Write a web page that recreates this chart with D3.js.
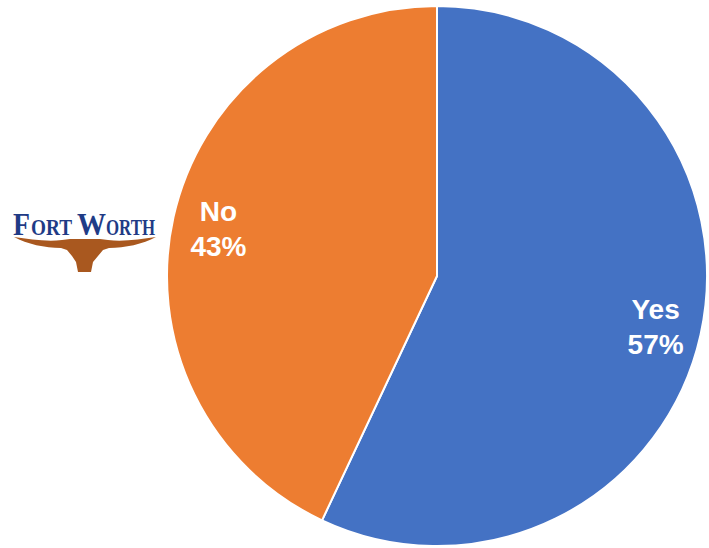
<!DOCTYPE html>
<html>
<head>
<meta charset="utf-8">
<script src="https://cdn.jsdelivr.net/npm/d3@7"></script>
<style>
  html, body { margin: 0; padding: 0; background: #ffffff; }
  svg { display: block; }
</style>
</head>
<body>
<svg id="chart" width="709" height="548"></svg>
<script>
// Survey answers, clockwise from 12 o'clock
const answers = ["Yes", "No"];
const shares = [57, 43];
const sliceColors = ["#4472C4", "#ED7D31"];

const svg = d3.select("#chart");
const cx = 437, cy = 276, radius = 270;

const pie = d3.pie().value(d => d.value).sort(null);
const arcs = pie(answers.map((a, i) => ({ label: a, value: shares[i], color: sliceColors[i] })));

const arc = d3.arc().innerRadius(0).outerRadius(radius);
const labelArc = d3.arc().innerRadius(224).outerRadius(224);

const g = svg.append("g").attr("transform", `translate(${cx},${cy})`);

g.selectAll("path.slice")
  .data(arcs)
  .join("path")
  .attr("class", "slice")
  .attr("d", arc)
  .attr("fill", d => d.data.color)
  .attr("stroke", "#ffffff")
  .attr("stroke-width", 2)
  .attr("stroke-linejoin", "round");

const labels = g.selectAll("text.label")
  .data(arcs)
  .join("text")
  .attr("class", "label")
  .attr("transform", d => `translate(${labelArc.centroid(d)})`)
  .attr("text-anchor", "middle")
  .attr("fill", "#ffffff")
  .attr("font-family", "'Liberation Sans', Arial, sans-serif")
  .attr("font-weight", "bold")
  .attr("font-size", 28);

labels.append("tspan").attr("x", 0).attr("y", -6).text(d => d.data.label);
labels.append("tspan").attr("x", 0).attr("y", 29).text(d => d.data.value + "%");

// City logo: small-caps wordmark over a longhorn silhouette
const logo = svg.append("g").attr("class", "logo");

logo.append("path")
  .attr("fill", "#A9581F")
  .attr("d", "M14,237 C30,239 46,242 62,240 L70,239 L100,239 L108,240 C124,242 140,239 156,237 " +
             "C143,244 125,248 109,248 L103,250 L98,256 L93,262 L91,272 L78,272 L76,262 " +
             "L72,256 L67,250 L61,248 C45,248 27,244 14,237 Z");

const wordParts = [
  { t: "F",    x: 13,  w: 17, size: 31 },
  { t: "ORT",  x: 31,  w: 41, size: 23 },
  { t: "W",    x: 77,  w: 29, size: 31 },
  { t: "ORTH", x: 106, w: 49, size: 23 }
];
logo.selectAll("text.word")
  .data(wordParts)
  .join("text")
  .attr("class", "word")
  .attr("x", d => d.x)
  .attr("y", 235)
  .attr("fill", "#1F3B86")
  .attr("font-family", "'Liberation Serif', 'DejaVu Serif', serif")
  .attr("font-weight", "bold")
  .attr("font-size", d => d.size)
  .attr("textLength", d => d.w)
  .attr("lengthAdjust", "spacingAndGlyphs")
  .text(d => d.t);
</script>
</body>
</html>
